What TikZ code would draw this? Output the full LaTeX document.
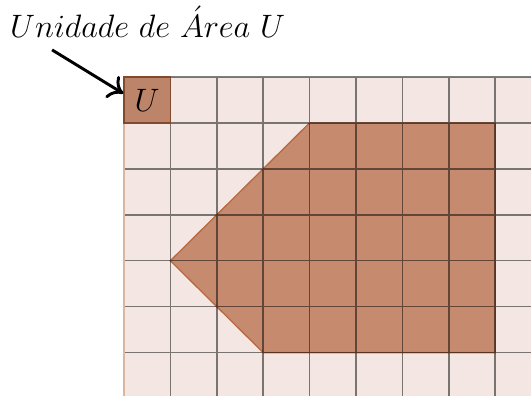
\documentclass[tikz,border=0pt]{standalone}
\usepackage{amsmath}
\usepackage{tikz}
\usetikzlibrary{positioning, arrows.meta}
\definecolor{papel}{HTML}{F4E7E3}
\definecolor{tijolo}{HTML}{C68B6E}
\definecolor{tijolob}{HTML}{B8693F}
\definecolor{borda}{HTML}{D9B79E}
\tikzset{
  grd/.style   = {step=1, draw=black, draw opacity=0.5, line width=0.9pt},
  regiao/.style= {fill=tijolo, draw=tijolob, line width=0.8pt, line join=miter},
  unid/.style  = {draw=tijolob!70!black, fill=tijolo!95!black, line width=0.8pt,
                  minimum width=1cm, minimum height=0.99cm, inner sep=0pt},
  ttl/.style   = {inner sep=0pt, font=\LARGE, scale=1.15, transform shape},
  ar/.style    = {-{Computer Modern Rightarrow[length=3mm, width=5.5mm]}, line width=1.8pt},
}

\begin{document}
\begin{tikzpicture}[x=1cm, y=0.99cm]
    \useasboundingbox (-2.672,-6.944) rectangle (8.772,1.676);
    % malha
    \fill[papel] (0,0) rectangle (8.772,-6.944);
    \draw[regiao] (4,-1) -- (8,-1) -- (8,-6) -- (3,-6) -- (1,-4) -- cycle;
    \draw[grd] (0,0) grid (8.772,-6.944);
    \draw[borda, line width=1.2pt] (0,0) -- (0,-6.944);
    % unidade
    \node[unid] (unit) at (0.5,-0.5) {};
    \node[ttl] (ulbl) at (unit.center) {$U$};
    \node[ttl, anchor=base west] (title) at (-2.46,0.87) {$Unidade\ de\ \acute{A}rea\ U$};
    \coordinate (tail) at (-1.55,0.59);
    \draw[ar] (tail) -- (unit.165);
  \end{tikzpicture}
\end{document}
